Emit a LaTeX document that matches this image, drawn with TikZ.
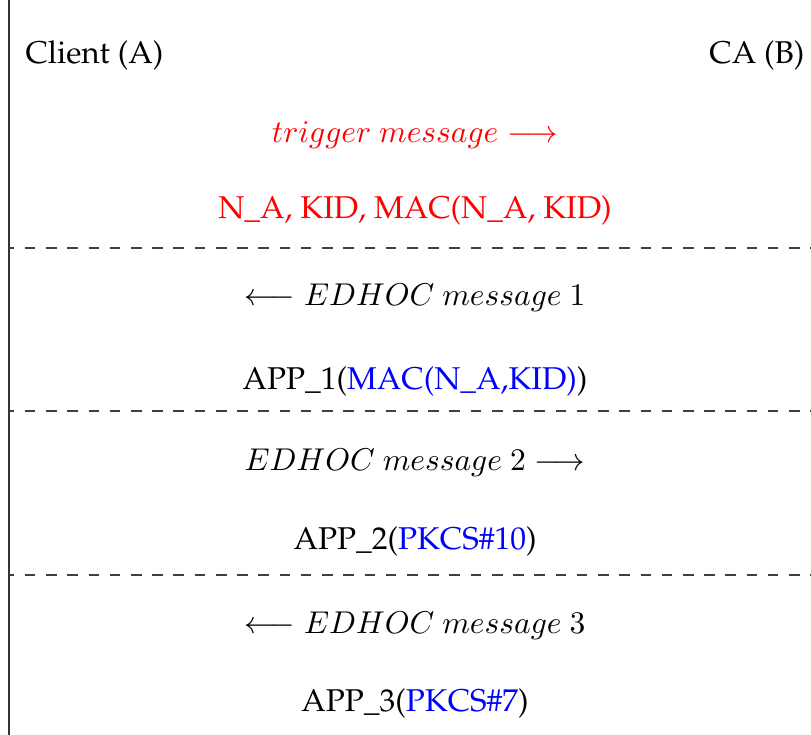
\documentclass[tikz,border=0pt]{standalone}
\usepackage[T1]{fontenc}
\renewcommand{\rmdefault}{ppl}
\usetikzlibrary{positioning}
\tikzset{
  px/.style={x=0.3175pt,y=-0.3175pt},
  party/.style={inner sep=0pt,font=\normalsize},
  msg/.style={inner sep=0pt,anchor=base},
  sep/.style={line width=0.4pt,dash pattern=on 3.37pt off 3.37pt,dash phase=1.7pt,black!75},
  life/.style={line width=0.45pt,black!80}
}
\definecolor{msgred}{RGB}{255,0,0}
\definecolor{msgblue}{RGB}{0,0,255}
\begin{document}
\begin{tikzpicture}[px]
  \useasboundingbox (0,0) rectangle (811,735);
  % lifeline of the client
  \coordinate (ltop) at (9,0);
  \coordinate (lbot) at (9,735);
  \draw[life] (ltop) -- (lbot);

  % parties
  \node[party,anchor=base west] (cli) at (25,64) {Client (A)};
  \node[party,anchor=base east] (ca) at (805,64) {CA (B)};

  % message rows
  \node[msg,text=msgred] (m0) at (415,143) {$trigger\ message \longrightarrow$};
  \node[msg,text=msgred] (p0) at (415,219) {N\_A, KID, MAC(N\_A, KID)};

  \node[msg] (m1) at (415,306) {$\longleftarrow EDHOC\ message\ 1$};
  \node[msg] (p1) at (415,389) {APP\_1(\textcolor{msgblue}{MAC(N\_A,KID)})};

  \node[msg] (m2) at (415,470) {$EDHOC\ message\ 2 \longrightarrow$};
  \node[msg] (p2) at (415,549) {APP\_2(\textcolor{msgblue}{PKCS\#10})};

  \node[msg] (m3) at (415,633) {$\longleftarrow EDHOC\ message\ 3$};
  \node[msg] (p3) at (415,711) {APP\_3(\textcolor{msgblue}{PKCS\#7})};

  % separators between exchanges
  \foreach \i/\yy in {1/248,2/411,3/575}{
    \coordinate (sl\i) at (9,\yy);
    \coordinate (sr\i) at (811,\yy);
    \draw[sep] (sl\i) -- (sr\i);
  }
\end{tikzpicture}
\end{document}
